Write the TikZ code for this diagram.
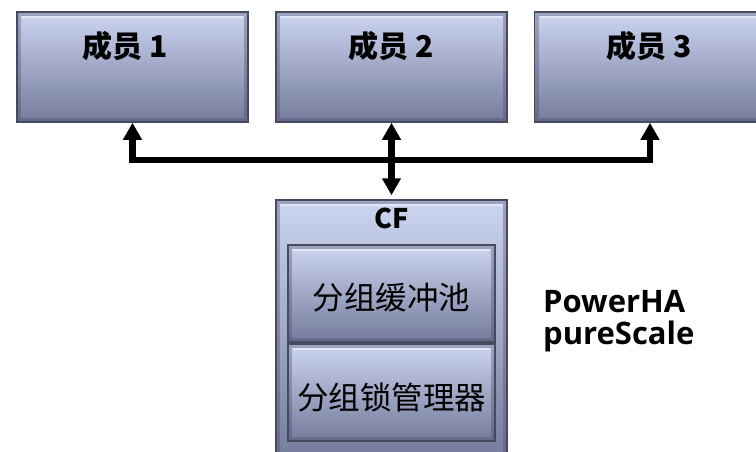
\documentclass[tikz,border=0pt]{standalone}
\usepackage{fontspec}
\setmainfont{Noto Sans CJK SC}
\newfontfamily\latbf{Open Sans}
\usetikzlibrary{arrows.meta}
\definecolor{boxtop}{RGB}{204,213,240}
\definecolor{boxbot}{RGB}{116,123,156}
\definecolor{boxline}{RGB}{70,74,96}
\tikzset{
  basebox/.style={draw=boxline, line width=1.5pt, top color=boxtop, bottom color=boxbot, inner sep=0pt,
    path picture={
      \draw[boxline, opacity=0.35, line width=8pt] (path picture bounding box.south west) rectangle (path picture bounding box.north east);
      \draw[white, opacity=0.45, line width=1.2pt] ([shift={(5pt,-5pt)}]path picture bounding box.north west) -- ([shift={(-5pt,-5pt)}]path picture bounding box.north east);
    }},
  memberbox/.style={basebox, minimum width=231pt, minimum height=110pt},
  cfbox/.style={basebox, minimum width=231pt, minimum height=262pt},
  poolbox/.style={basebox, minimum width=207pt, minimum height=97pt},
  membertext/.style={font=\fontsize{30}{33}\selectfont\bfseries, inner sep=0pt},
  cftext/.style={font=\fontsize{27}{30}\selectfont\bfseries, inner sep=0pt},
  pooltext/.style={font=\fontsize{31.5}{34}\selectfont, inner sep=0pt},
  sidetext/.style={font=\latbf\fontsize{31}{32}\selectfont\bfseries, align=left, inner sep=0pt, anchor=west},
  dbl/.style={line width=6.5pt, line join=miter, {Triangle[width=18pt,length=17pt]}-{Triangle[width=18pt,length=17pt]}}
}
\begin{document}
\begin{tikzpicture}[x=1pt,y=-1pt]
\useasboundingbox (0,0) rectangle (756,451);
\clip (0,0) rectangle (756,451);
\node[memberbox] (m1) at (132.5,67) {};
\node[memberbox] (m2) at (391.5,67) {};
\node[memberbox] (m3) at (650,67) {};
\node[membertext] (t1) at (125,46) {成员 1};
\node[membertext] (t2) at (391.5,46) {成员 2};
\node[membertext] (t3) at (649,46) {成员 3};
\node[cfbox] (cf) at (391.5,331) {};
\node[cftext] (cft) at (391.5,218) {CF};
\node[poolbox] (p1) at (391.5,293.5) {};
\node[poolbox] (p2) at (391.5,392.5) {};
\node[pooltext] (p1t) at (391.5,298) {分组缓冲池};
\node[pooltext] (p2t) at (391.5,397) {分组锁管理器};
\node[sidetext] (side) at (543,321) {PowerHA\\pureScale};
\coordinate (j1) at (m1.south |- 0,160);
\coordinate (j3) at (m3.south |- 0,160);
\draw[dbl] (m1.south) -- (j1) -- (j3) -- (m3.south);
\draw[dbl, shorten >=4pt] (m2.south) -- (cf.north);
\end{tikzpicture}
\end{document}
